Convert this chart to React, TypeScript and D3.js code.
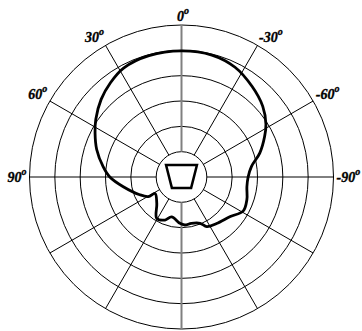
import React from 'react';
import * as d3 from 'd3';

// polar response, angle in degrees (positive = left), level in ring units
const angles = [0, 15, 28, 37, 46, 56, 63, 72, 82.5, 90, 99.5, 113, 120.5, 122, 137, 149, 159, 166, 178, 184, 192, 202, 207, 217, 231, 241, 251, 261.5, 270, 278.5, 287, 296, 302, 311, 322, 334, 346];
const levels = [4.98, 4.96, 4.87, 4.66, 4.41, 4.08, 3.83, 3.52, 3.12, 2.83, 2.33, 1.79, 1.52, 1.23, 1.43, 1.9, 1.82, 1.62, 1.83, 1.9, 1.87, 1.97, 2.2, 2.3, 2.48, 2.78, 2.73, 2.61, 2.63, 2.79, 3.23, 3.65, 3.93, 4.25, 4.53, 4.82, 4.96];

const rings = [1, 2, 3, 4, 5, 6];
const spokes = [0, 30, 60, 90, 120, 150, 180, 210, 240, 270, 300, 330];
const tickLabels = ['0', '30', '60', '90', '-90', '-60', '-30'];
const tickAngles = [0, 30, 60, 90, -90, -60, -30];

// speaker icon outline in ring units
const iconX = [-0.61, 0.61, 0.38, -0.38];
const iconY = [-0.47, -0.47, 0.43, 0.43];

const W = 362;
const H = 331;
const cx = 181.5;
const cy = 177;

export default function App() {
  const r = d3.scaleLinear().domain([0, 6]).range([0, 152]);
  const toRad = (deg: number) => (-deg * Math.PI) / 180;

  const line = d3
    .lineRadial<number>()
    .angle((_, i) => toRad(angles[i]))
    .radius(d => r(d))
    .curve(d3.curveCatmullRomClosed.alpha(0.5));

  const icon = d3
    .line<number>()
    .x((_, i) => r(iconX[i]))
    .y((_, i) => r(iconY[i]))
    .curve(d3.curveLinearClosed);

  const font = '"Liberation Serif", "Times New Roman", serif';

  return (
    <>
      <style>{`body{margin:0}`}</style>
      <svg width={W} height={H} style={{ display: 'block', background: '#fff' }}>
        <g transform={`translate(${cx},${cy})`}>
          {rings.map(k => (
            <circle key={k} r={r(k)} fill="none" stroke="#000" strokeWidth={1} />
          ))}
          {spokes.map(a => {
            const t = toRad(a);
            const vertical = a === 0 || a === 180;
            return (
              <line
                key={a}
                x1={r(1) * Math.sin(t)}
                y1={-r(1) * Math.cos(t)}
                x2={r(6) * Math.sin(t)}
                y2={-r(6) * Math.cos(t)}
                stroke={vertical ? '#808080' : '#000'}
                strokeWidth={vertical ? 2 : 1}
              />
            );
          })}
          <path d={line(levels) || ''} fill="none" stroke="#000" strokeWidth={2.8} strokeLinejoin="round" />
          <path d={icon(iconX) || ''} fill="none" stroke="#000" strokeWidth={2.5} strokeLinejoin="miter" />
          {tickLabels.map((lab, i) => {
            const a = tickAngles[i];
            const t = toRad(a);
            const x = 155 * Math.sin(t);
            const y = -155 * Math.cos(t);
            const anchor = a === 0 ? 'middle' : a > 0 ? 'end' : 'start';
            const dy = Math.abs(a) === 90 ? 4.5 : a === 0 ? -1.5 : -0.5;
            return (
              <text
                key={lab}
                x={a === 0 ? x + 1.5 : x}
                y={y + dy}
                textAnchor={anchor}
                fontFamily={font}
                fontWeight={700}
                fontStyle="italic"
                fontSize={14}
                fill="#000"
                stroke="#000"
                strokeWidth={0.35}
              >
                {lab}
                <tspan fontSize={10} dy={-7}>o</tspan>
              </text>
            );
          })}
        </g>
      </svg>
    </>
  );
}
